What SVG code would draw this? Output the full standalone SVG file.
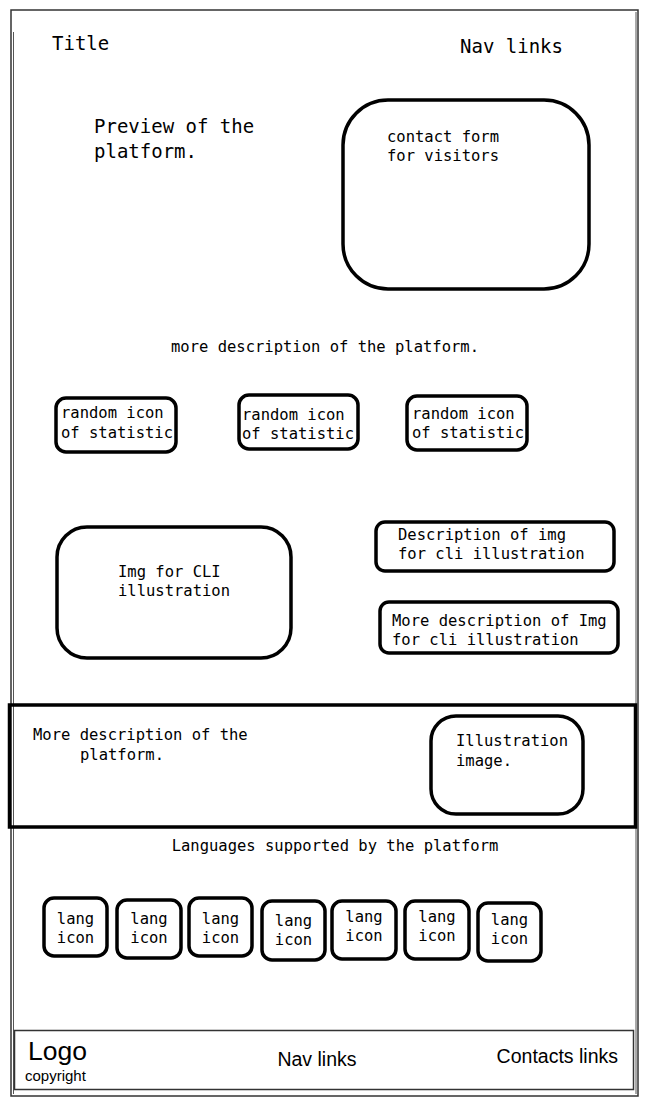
<svg xmlns="http://www.w3.org/2000/svg" width="649" height="1104" viewBox="0 0 649 1104">
<style>
.bx{fill:none;stroke:#000;stroke-width:3.5}
.mono{font-family:"DejaVu Sans Mono","Liberation Mono",monospace;fill:#000}
.big{font-size:19px}
.sm{font-size:15.5px}
.sans{font-family:"Liberation Sans",Arial,sans-serif;fill:#000}
</style>
<rect width="649" height="1104" fill="#fff"/>
<g id="frame">
<rect x="11" y="10" width="627" height="1086" fill="none" stroke="#333" stroke-width="1.5"/>
<path d="M13.5 32 L13.5 1094 M636 12 L636 1094" fill="none" stroke="#555" stroke-width="1"/>
</g>
<g id="title"><text class="mono big" x="52" y="50">Title</text></g>
<g id="nav-top"><text class="mono big" x="460" y="53">Nav links</text></g>
<g id="preview"><text class="mono big" x="94" y="133">Preview of the</text><text class="mono big" x="94" y="158">platform.</text></g>
<g id="contact-form">
<rect class="bx" x="343" y="100" width="246" height="189" rx="45"/>
<text class="mono sm" x="387" y="142">contact form</text>
<text class="mono sm" x="387" y="161">for visitors</text>
</g>
<g id="more-desc"><text class="mono sm" x="325" y="352" text-anchor="middle">more description of the platform.</text></g>
<g id="stat1">
<rect class="bx" x="56" y="398" width="120" height="54" rx="10"/>
<text class="mono sm" x="61" y="418">random icon</text>
<text class="mono sm" x="61" y="438">of statistic</text>
</g>
<g id="stat2">
<rect class="bx" x="239" y="395" width="119" height="54" rx="10"/>
<text class="mono sm" x="242" y="420">random icon</text>
<text class="mono sm" x="242" y="439">of statistic</text>
</g>
<g id="stat3">
<rect class="bx" x="407" y="396" width="120" height="54" rx="10"/>
<text class="mono sm" x="412" y="419">random icon</text>
<text class="mono sm" x="412" y="438">of statistic</text>
</g>
<g id="cli-img">
<rect class="bx" x="57" y="527" width="234" height="131" rx="30"/>
<text class="mono sm" x="118" y="577">Img for CLI</text>
<text class="mono sm" x="118" y="596">illustration</text>
</g>
<g id="desc1">
<rect class="bx" x="376" y="522" width="238" height="49" rx="9"/>
<text class="mono sm" x="398" y="540">Description of img</text>
<text class="mono sm" x="398" y="559">for cli illustration</text>
</g>
<g id="desc2">
<rect class="bx" x="380" y="602" width="238" height="51" rx="9"/>
<text class="mono sm" x="392" y="626">More description of Img</text>
<text class="mono sm" x="392" y="645">for cli illustration</text>
</g>
<g id="band">
<rect x="9.5" y="705" width="626" height="122" fill="none" stroke="#000" stroke-width="3.5"/>
<text class="mono sm" x="33" y="740">More description of the</text>
<text class="mono sm" x="80" y="760">platform.</text>
</g>
<g id="illustration">
<rect class="bx" x="431" y="716" width="152" height="98" rx="25"/>
<text class="mono sm" x="456" y="746">Illustration</text>
<text class="mono sm" x="456" y="766">image.</text>
</g>
<g id="languages"><text class="mono sm" x="335" y="851" text-anchor="middle">Languages supported by the platform</text></g>
<g id="lang1"><rect class="bx" x="44" y="898" width="63" height="58" rx="10"/><text class="mono sm" x="75.5" y="924" text-anchor="middle">lang</text><text class="mono sm" x="75.5" y="943" text-anchor="middle">icon</text></g>
<g id="lang2"><rect class="bx" x="117" y="900" width="64" height="58" rx="10"/><text class="mono sm" x="149" y="924" text-anchor="middle">lang</text><text class="mono sm" x="149" y="943" text-anchor="middle">icon</text></g>
<g id="lang3"><rect class="bx" x="189" y="898" width="63" height="58" rx="10"/><text class="mono sm" x="220.5" y="924" text-anchor="middle">lang</text><text class="mono sm" x="220.5" y="943" text-anchor="middle">icon</text></g>
<g id="lang4"><rect class="bx" x="262" y="901" width="63" height="59" rx="10"/><text class="mono sm" x="293.5" y="926" text-anchor="middle">lang</text><text class="mono sm" x="293.5" y="945" text-anchor="middle">icon</text></g>
<g id="lang5"><rect class="bx" x="332" y="901" width="64" height="58" rx="10"/><text class="mono sm" x="364" y="922" text-anchor="middle">lang</text><text class="mono sm" x="364" y="941" text-anchor="middle">icon</text></g>
<g id="lang6"><rect class="bx" x="405" y="901" width="64" height="58" rx="10"/><text class="mono sm" x="437" y="922" text-anchor="middle">lang</text><text class="mono sm" x="437" y="941" text-anchor="middle">icon</text></g>
<g id="lang7"><rect class="bx" x="478" y="903" width="63" height="58" rx="10"/><text class="mono sm" x="509.5" y="925" text-anchor="middle">lang</text><text class="mono sm" x="509.5" y="944" text-anchor="middle">icon</text></g>
<g id="footer">
<rect x="14.5" y="1030.5" width="619" height="59" fill="none" stroke="#333" stroke-width="1.5"/>
<text class="sans" x="28" y="1060" font-size="26.5">Logo</text>
<text class="sans" x="25" y="1081" font-size="15">copyright</text>
<text class="sans" x="317" y="1066" font-size="19.5" text-anchor="middle">Nav links</text>
<text class="sans" x="618" y="1063" font-size="19.5" text-anchor="end">Contacts links</text>
</g>
<g id="connectors"/>
</svg>
